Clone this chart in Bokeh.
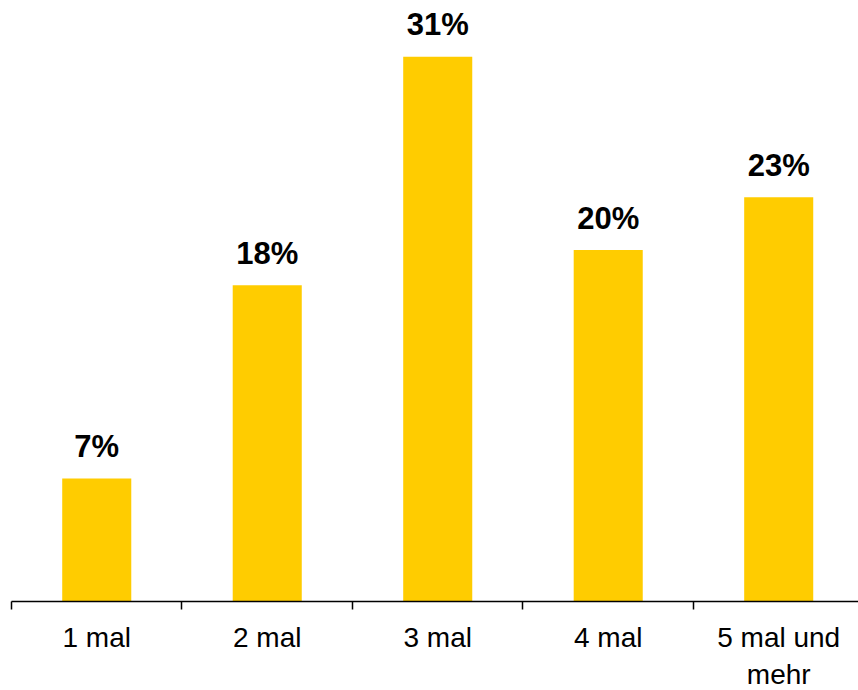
from bokeh.plotting import figure
from bokeh.models import ColumnDataSource, Range1d, FixedTicker, LinearAxis
from bokeh.core.properties import value
from bokeh.embed import file_html
from bokeh.resources import INLINE

categories = ["1 mal", "2 mal", "3 mal", "4 mal", "5 mal und\nmehr"]
values = [7, 18, 31, 20, 23]
labels = ["7%", "18%", "31%", "20%", "23%"]

centers = [i + 0.5 for i in range(len(categories))]
boundaries = list(range(len(categories) + 1))

src = ColumnDataSource(dict(x=centers, top=values, label=labels))

p = figure(frame_width=847, frame_height=601, output_backend="svg", toolbar_location=None,
           x_axis_location=None, y_axis_location=None,
           x_range=Range1d(0, 4.968), y_range=Range1d(0, 34.2),
           min_border_left=11, min_border_right=0, min_border_top=0, min_border_bottom=0)
p.outline_line_color = None
p.xgrid.visible = False
p.ygrid.visible = False
p.background_fill_color = "white"
p.border_fill_color = "white"

p.vbar(x="x", top="top", bottom=0, width=0.405, source=src, fill_color="#FFCC00", line_color=None)

p.text(x="x", y="top", text="label", source=src, text_align="center", text_baseline="alphabetic",
       y_offset=-32, text_font=value("Liberation Sans"), text_font_style="bold",
       text_font_size="31px", text_color="black")

ax = LinearAxis(ticker=FixedTicker(ticks=centers, minor_ticks=boundaries))
ax.major_label_overrides = {c: lab for c, lab in zip(centers, categories)}
ax.major_tick_out = 0
ax.major_tick_in = 0
ax.minor_tick_out = 8
ax.minor_tick_in = 0
ax.minor_tick_line_color = "black"
ax.minor_tick_line_width = 1.5
ax.axis_line_color = "black"
ax.axis_line_width = 1.5
ax.major_label_text_font = "Liberation Sans"
ax.major_label_text_font_size = "28px"
ax.major_label_text_color = "black"
ax.major_label_standoff = 12
p.add_layout(ax, "below")

open("out.html", "w").write(file_html(p, INLINE))
